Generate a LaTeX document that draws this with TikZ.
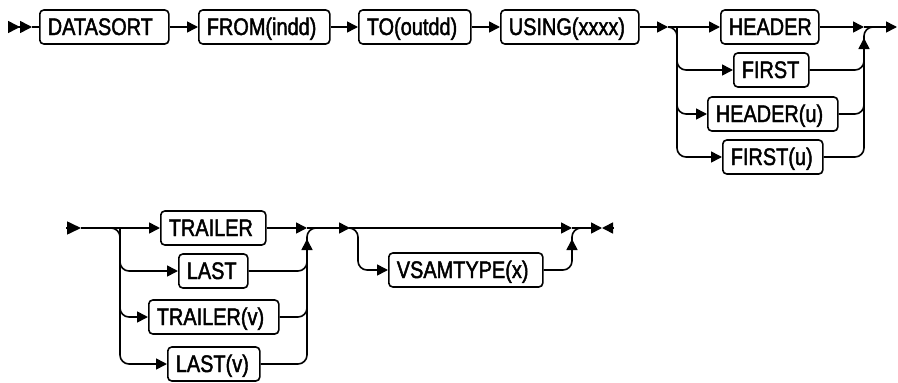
\documentclass[tikz,border=0pt]{standalone}
\usepackage{fontspec}
\setmainfont{Liberation Sans}[FakeStretch=0.83,FakeBold=1.8]
\usetikzlibrary{arrows.meta}
\begin{document}
\begin{tikzpicture}[x=1pt,y=-1pt,
 line width=1.6pt,
 term/.style={draw, rounded corners=4pt, minimum height=34pt, inner xsep=8pt, inner ysep=0pt, text width=#1, align=left, anchor=west, text height=18pt, text depth=2pt, font=\fontsize{24}{26}\selectfont},
 arr/.style={-{Triangle[length=11pt,width=11pt]}},
 rr/.style={rounded corners=9pt}]
\useasboundingbox (0,0) rectangle (898,383);
% row 1 nodes
\node[term=113pt] (datasort) at (39,27) {DATASORT};
\node[term=115pt] (from) at (198,27) {FROM(indd)};
\node[term=96pt] (to) at (358,27) {TO(outdd)};
\node[term=122pt] (using) at (500,27) {USING(xxxx)};
\node[term=82pt] (header) at (720,27) {HEADER};
\node[term=59pt] (first) at (733,70) {FIRST};
\node[term=114pt] (headeru) at (707,114) {HEADER(u)};
\node[term=84pt] (firstu) at (722,157) {FIRST(u)};
% row 2 nodes
\node[term=89pt] (trailer) at (160,228) {TRAILER};
\node[term=53pt] (last) at (178,271) {LAST};
\node[term=114pt] (trailerv) at (148,317) {TRAILER(v)};
\node[term=76pt] (lastv) at (167,364) {LAST(v)};
\node[term=138pt] (vsam) at (388,270) {VSAMTYPE(x)};
% row 1 connectors
\coordinate (s0) at (8,27);
\coordinate (s1) at (32,27);
\draw[-{Triangle[length=12pt,width=12pt]Triangle[length=12pt,width=12pt]}] (s0) -- (s1);
\draw (s1) -- (datasort.west);
\draw[arr] (datasort.east) -- (from.west);
\draw[arr] (from.east) -- (to.west);
\draw[arr] (to.east) -- (using.west);
\coordinate (j1) at (668,27);
\coordinate (c1) at (677,27);
\draw[arr] (using.east) -- (j1);
\draw[arr] (j1) -- (header.west);
\draw[rr,arr] (j1) -- (c1) |- (firstu.west);
\draw[rr,arr] (c1) |- (first.west);
\draw[rr,arr] (c1) |- (headeru.west);
\coordinate (j2) at (864,27);
\coordinate (up1) at (864,38);
\coordinate (up1b) at (864,58);
\coordinate (e1) at (897,27);
\draw[arr] (header.east) -- (j2);
\draw[rr,arr] (firstu.east) -| (up1);
\draw[rr] (first.east) -| (up1b);
\draw[rr] (headeru.east) -| (up1b);
\draw[rr] (864,40) -- (j2) -- (878,27);
\draw[arr] (j2) -- (e1);
% row 2 connectors
\coordinate (s2) at (66,228);
\coordinate (s2t) at (81,228);
\coordinate (c2) at (120,228);
\draw[-{Triangle[length=14pt,width=13pt]}] (s2) -- (s2t);
\draw[arr] (s2t) -- (trailer.west);
\draw[rr,arr] (s2t) -- (c2) |- (lastv.west);
\draw[rr,arr] (c2) |- (last.west);
\draw[rr,arr] (c2) |- (trailerv.west);
\coordinate (j3) at (307,228);
\coordinate (up2) at (307,239);
\coordinate (up2b) at (307,260);
\draw[arr] (trailer.east) -- (j3);
\draw[rr,arr] (lastv.east) -| (up2);
\draw[rr] (last.east) -| (up2b);
\draw[rr] (trailerv.east) -| (up2b);
\draw[rr] (307,241) -- (j3) -- (321,228);
\coordinate (j4) at (350,228);
\coordinate (c3) at (358,228);
\coordinate (j5) at (572,228);
\coordinate (up3) at (572,239);
\draw[arr] (j3) -- (j4);
\draw[arr] (j4) -- (j5);
\draw[rr,arr] (j4) -- (c3) |- (vsam.west);
\draw[rr,arr] (vsam.east) -| (up3);
\draw[rr] (572,241) -- (j5) -- (586,228);
\coordinate (e2) at (602,228);
\coordinate (e3) at (614,228);
\draw[arr] (j5) -- (e2);
\draw[arr] (e3) -- (e2);
\end{tikzpicture}
\end{document}
